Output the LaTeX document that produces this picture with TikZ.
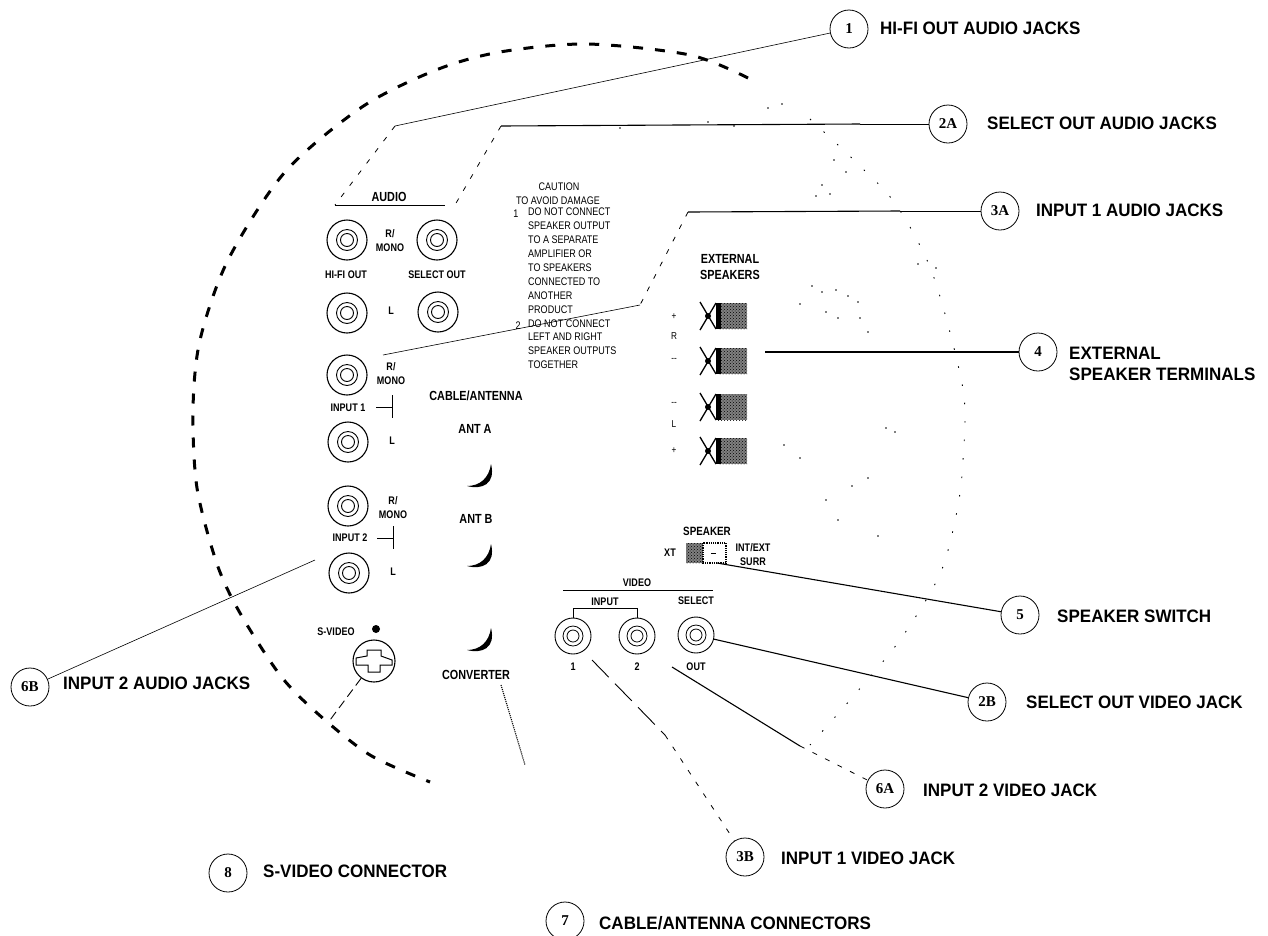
\documentclass[tikz,border=0pt]{standalone}
\usepackage{fontspec}
\setmainfont{Liberation Sans}
\newfontfamily\tagfont[FakeStretch=0.82]{Liberation Sans}
\newfontfamily\widefont[FakeStretch=0.945]{Liberation Sans}
\newfontfamily\numfont{Liberation Serif}
\usetikzlibrary{positioning,arrows.meta,calc,patterns,shapes.geometric}
\begin{document}
\begin{tikzpicture}[
    x=1pt, y=-1pt,
    callout/.style={draw, ellipse, line width=0.8pt, minimum width=38pt, minimum height=38pt, inner sep=0pt, font=\numfont\bfseries\fontsize{15}{15}\selectfont, fill=white},
    tag/.style={anchor=west, inner sep=0pt, align=left, font=\widefont\bfseries\fontsize{18}{21}\selectfont},
    small/.style={inner sep=0pt, align=center, font=\tagfont\bfseries\fontsize{11}{14}\selectfont},
    mid/.style={small, font=\tagfont\bfseries\fontsize{13.2}{16}\selectfont},
    jack/.style={draw, circle, line width=1.1pt, minimum size=40pt, inner sep=0pt},
    vjack/.style={draw, circle, line width=0.9pt, minimum size=36pt, inner sep=0pt},
    note/.style={inner sep=0pt, font=\tagfont\fontsize{11}{13.9}\selectfont},
    lead/.style={line width=0.6pt},
    heavy/.style={line width=1.1pt},
    gaps/.style={line width=0.8pt, dash pattern=on 5pt off 9pt},
    longgaps/.style={line width=0.9pt, dash pattern=on 24pt off 9pt},
    cutline/.style={line width=3pt, dash pattern=on 10pt off 12pt},
    speck/.style={line width=0.9pt, dash pattern=on 1.5pt off 17pt},
  ]
    \useasboundingbox (0,0) rectangle (1268,935);

    % cut-away outline
    \draw[cutline] plot[smooth, tension=0.5] coordinates {(748,78) (690,55) (587,44) (500,52) (436,70) (362,107) (285,172) (228,260) (200,340) (193,409) (197,488) (217,564) (240,613) (280,675) (317,713) (370,755) (430,782)};
    \draw[speck] plot[smooth, tension=0.5] coordinates {(810,119) (860,166) (897,206) (933,275) (963,389) (963,460) (957,511) (940,574) (900,640) (850,700) (810,745)};
    \foreach \px/\py in {834/160, 822/185, 846/172, 816/196, 830/194, 812/286, 822/292, 836/290, 848/296, 858/302, 800/304, 826/312, 838/318, 860/318, 868/332, 918/264, 936/268, 886/428, 895/432, 784/445, 800/458, 838/520, 852/486, 878/536, 826/500, 868/478, 620/128, 708/122, 782/104, 734/126, 768/108}
      \fill (\px,\py) circle (0.9);

    % audio jacks
    \foreach \name/\px/\py in {hifir/347/240, selr/437/240, hifil/347/313, sell/438/312, inar/347/375, inal/348/442, inbr/348/506, inbl/349/573}{
      \node[jack] (\name) at (\px,\py) {};
      \draw[line width=0.9pt] (\px,\py) circle (10.5) circle (6.5);
    }
    \node[mid] (audio) at (389,197) {AUDIO};
    \draw[line width=0.9pt] (335,205) -- (445,205);
    \node[small] at (390,241) {R/\\MONO};
    \node[small] at (346,275) {HI-FI OUT};
    \node[small] at (437,275) {SELECT OUT};
    \node[small] at (391,311) {L};
    \node[small] at (391,374) {R/\\MONO};
    \node[small] at (348,408) {INPUT 1};
    \draw[line width=1pt] (376,407) -- (392,407) (392,395) -- (392,418);
    \node[small] at (392,441) {L};
    \node[small] at (393,508) {R/\\MONO};
    \node[small] at (350,538) {INPUT 2};
    \draw[line width=1pt] (377,538) -- (393,538) (393,526) -- (393,549);
    \node[small] at (393,572) {L};

    % caution text
    \node[note, anchor=north west, align=left] (caution) at (528,208) {DO NOT CONNECT\\SPEAKER OUTPUT\\TO A SEPARATE\\AMPLIFIER OR\\TO SPEAKERS\\CONNECTED TO\\ANOTHER\\PRODUCT\\DO NOT CONNECT\\LEFT AND RIGHT\\SPEAKER OUTPUTS\\TOGETHER};
    \node[note] at (559,187) {CAUTION};
    \node[note] at (558,201) {TO AVOID DAMAGE};
    \node[note] at (516,214) {1};
    \node[note] at (518,326) {2};

    % antenna
    \node[mid] at (476,396) {CABLE/ANTENNA};
    \node[mid] at (475,429) {ANT A};
    \node[mid] at (476,519) {ANT B};
    \node[mid] at (476,675) {CONVERTER};
    \foreach \py in {464,544,628}
      \fill (491,\py) .. controls (496,\py+20) and (482,\py+26) .. (467,\py+22) .. controls (480,\py+22) and (489,\py+14) .. cycle;

    % s-video
    \node[small] at (336,632) {S-VIDEO};
    \fill (376,629) circle (4);
    \node[jack, minimum size=42pt] (svideo) at (374,661) {};
    \draw[line width=1pt] (367,650) -- (381,650) -- (381,656) -- (392,660) -- (392,665) -- (380,665) -- (380,672) -- (368,672) -- (368,665) -- (356,665) -- (356,658) -- (367,656) -- cycle;

    % speaker terminals
    \node[mid] at (730,267) {EXTERNAL\\SPEAKERS};
    \foreach \py in {316,361,407,451}{
      \fill[black!50] (718,\py-13) rectangle (747,\py+13);
      \fill[pattern=crosshatch dots] (718,\py-13) rectangle (747,\py+13);
      \fill (716,\py-13) rectangle (721,\py+13);
      \draw[line width=1.3pt] (700,\py-14) -- (716,\py+13) (700,\py+14) -- (716,\py-13);
      \fill (708,\py) circle (3);
    }
    \foreach \py/\lab in {317/+, 336/R, 360/--, 404/--, 424/L, 451/+}
      \node[small, font=\tagfont\fontsize{10}{12}\selectfont] at (674,\py) {\lab};

    % speaker switch
    \node[small, font=\tagfont\bfseries\fontsize{12}{14}\selectfont] at (707,531) {SPEAKER};
    \node[small] at (670,553) {XT};
    \fill[black!50] (686,543) rectangle (703,563);
    \fill[pattern=crosshatch dots] (686,543) rectangle (703,563);
    \draw[line width=1.2pt, densely dotted] (703,543) rectangle (726,563);
    \draw[line width=0.8pt] (711,553) -- (716,553);
    \node[small] at (753,555) {INT/EXT\\SURR};

    % video jacks
    \node[small] at (637,583) {VIDEO};
    \draw[line width=0.9pt] (563,590) -- (713,590);
    \node[small] at (605,602) {INPUT};
    \node[small] at (696,601) {SELECT};
    \draw[line width=0.8pt] (573,618) -- (573,608) -- (637,608) -- (637,618);
    \foreach \name/\px/\py/\lab in {vone/573/636/1, vtwo/637/636/2, vsel/696/635/OUT}{
      \node[vjack] (\name) at (\px,\py) {};
      \draw[line width=0.8pt] (\px,\py) circle (10) circle (6);
      \node[small] at (\px,667) {\lab};
    }

    % callouts
    \node[callout] (hifi) at (849,29) {1};
    \node[tag] at (880,28) {HI-FI OUT AUDIO JACKS};
    \node[callout] (selaudio) at (948,124) {2A};
    \node[tag] at (987,123) {SELECT OUT AUDIO JACKS};
    \node[callout] (inaudio) at (1000,211) {3A};
    \node[tag] at (1036,210) {INPUT 1 AUDIO JACKS};
    \node[callout] (terminals) at (1038,352) {4};
    \node[tag] at (1069,364) {EXTERNAL\\SPEAKER TERMINALS};
    \node[callout] (switch) at (1020,615) {5};
    \node[tag] at (1057,616) {SPEAKER SWITCH};
    \node[callout] (selvideo) at (987,702) {2B};
    \node[tag] at (1026,702) {SELECT OUT VIDEO JACK};
    \node[callout] (invideob) at (885,789) {6A};
    \node[tag] at (923,790) {INPUT 2 VIDEO JACK};
    \node[callout] (invideoa) at (745,857) {3B};
    \node[tag] at (781,858) {INPUT 1 VIDEO JACK};
    \node[callout] (inbaudio) at (30,687) {6B};
    \node[tag] at (63,683) {INPUT 2 AUDIO JACKS};
    \node[callout] (svid) at (228,873) {8};
    \node[tag] at (263,871) {S-VIDEO CONNECTOR};
    \node[callout] (cable) at (565,921) {7};
    \node[tag] at (599,923) {CABLE/ANTENNA CONNECTORS};

    % free ends and bends
    \coordinate (hifibend) at (395,126);
    \coordinate (hifiend) at (335,205);
    \coordinate (selbend) at (501,126);
    \coordinate (selend) at (452,210);
    \coordinate (selmid) at (860,124);
    \coordinate (inbend) at (688,212);
    \coordinate (inmid) at (640,305);
    \coordinate (inend) at (383,355);
    \coordinate (inheavy) at (900,211);
    \coordinate (termend) at (765,352);
    \coordinate (switchend) at (717,563);
    \coordinate (vtwoend) at (672,667);
    \coordinate (vtwomid) at (800,746);
    \coordinate (voneend) at (592,660);
    \coordinate (vonemid) at (665,735);
    \coordinate (inbend2) at (315,560);
    \coordinate (svidend) at (330,720);
    \coordinate (convstart) at (501,685);
    \coordinate (convend) at (525,765);

    % connectors
    \draw[lead] (hifi) -- (hifibend);
    \draw[gaps] (hifibend) -- (hifiend);
    \draw[heavy] (selbend) -- (selmid);
    \draw[lead] (selmid) -- (selaudio);
    \draw[gaps] (selbend) -- (selend);
    \draw[heavy] (inbend) -- (inheavy);
    \draw[lead] (inheavy) -- (inaudio);
    \draw[gaps] (inbend) -- (inmid);
    \draw[lead] (inmid) -- (inend);
    \draw[heavy] (terminals) -- (termend);
    \draw[heavy] (switch) -- (switchend);
    \draw[heavy] (selvideo) -- (vsel);
    \draw[heavy] (vtwoend) -- (vtwomid);
    \draw[gaps] (vtwomid) -- (invideob);
    \draw[longgaps] (voneend) -- (vonemid);
    \draw[gaps] (vonemid) -- (invideoa);
    \draw[lead] (inbaudio) -- (inbend2);
    \draw[longgaps, dash pattern=on 9pt off 5pt] (svideo) -- (svidend);
    \draw[heavy, densely dotted] (convstart) -- (convend);
  \end{tikzpicture}
\end{document}
